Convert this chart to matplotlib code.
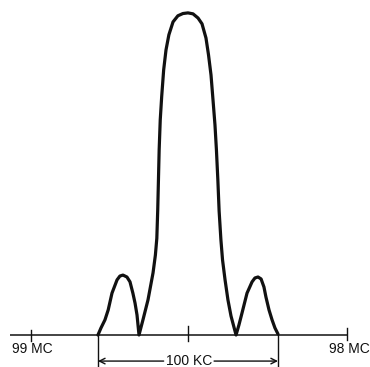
import matplotlib
matplotlib.use("Agg")
import matplotlib.pyplot as plt

# Frequency offset from carrier (kHz) and relative amplitude of the spectrum curve
freq_khz = [-50.0, -48.3, -46.1, -44.3, -42.2, -39.4, -37.8, -36.1, -33.9, -32.2, -30.6, -29.4, -28.3, -27.2,
            -25.0, -22.2, -19.4, -18.1, -17.3, -16.8, -16.4, -16.0, -15.4, -14.6, -13.5, -12.2, -10.6, -8.3,
            -5.6, -2.8, 0.0, 2.8, 5.6, 7.8, 10.0, 11.4, 12.8, 13.9, 15.0, 15.8, 16.6, 17.3, 18.3, 19.2, 20.6,
            22.2, 23.9, 26.7,
            28.3, 30.0, 32.8, 35.6, 37.2, 38.9, 40.6, 42.2, 43.3, 45.0, 46.7, 48.3, 50.0]
amplitude = [0.0, 0.022, 0.047, 0.078, 0.130, 0.171, 0.183, 0.186, 0.180, 0.165, 0.130, 0.099, 0.062, 0.0,
             0.047, 0.109, 0.193, 0.248, 0.300, 0.388, 0.481, 0.575, 0.668, 0.740, 0.823, 0.885, 0.932, 0.972,
             0.991, 0.998, 1.0, 0.997, 0.984, 0.966, 0.922, 0.870, 0.807, 0.730, 0.652, 0.575, 0.481, 0.385,
             0.295, 0.233, 0.171, 0.109, 0.059, 0.0,
             0.031, 0.068, 0.130, 0.165, 0.177, 0.180, 0.174, 0.149, 0.118, 0.078, 0.047, 0.022, 0.003]

tick_pos = [-87.2, 0.0, 88.3]
tick_labels = ["99 MC", "", "98 MC"]
band_edges = [-50.0, 50.0]
band_label = "100 KC"

fig = plt.figure(figsize=(3.70, 3.67), dpi=100)
ax = fig.add_axes([0, 0, 1, 1])
ax.set_xlim(-104.4, 101.1)
ax.set_ylim(-0.0994, 1.040)
ax.axis("off")

ink = "#111111"
font = "Liberation Sans"

# baseline
ax.plot([-99.0, 88.3], [0, 0], color=ink, lw=1.1, solid_capstyle="butt")

# ticks
tick_heights = [(0.016, -0.019), (0.028, -0.019), (0.022, -0.016)]
for p, (top, bot) in zip(tick_pos, tick_heights):
    ax.plot([p, p], [bot, top], color=ink, lw=1.0)

# labels for ticks
ax.text(-97.6, -0.022, tick_labels[0], ha="left", va="top", fontsize=10,
        family=font, color=ink)
ax.text(100.9, -0.022, tick_labels[2], ha="right", va="top", fontsize=10,
        family=font, color=ink)

# spectrum curve
ax.plot(freq_khz, amplitude, color=ink, lw=2.3, solid_joinstyle="round",
        solid_capstyle="round")

# dimension lines for bandwidth
for e in band_edges:
    ax.plot([e, e], [0, -0.097], color=ink, lw=1.0)

y_dim = -0.081
ax.annotate("", xy=(band_edges[0], y_dim), xytext=(-13.5, y_dim),
            arrowprops=dict(arrowstyle="->", color=ink, lw=1.0, shrinkA=0, shrinkB=0))
ax.annotate("", xy=(band_edges[1], y_dim), xytext=(14.5, y_dim),
            arrowprops=dict(arrowstyle="->", color=ink, lw=1.0, shrinkA=0, shrinkB=0))
ax.text(0.5, y_dim, band_label, ha="center", va="center", fontsize=10,
        family=font, color=ink)

fig.savefig("out.png", dpi=100, facecolor="white")
